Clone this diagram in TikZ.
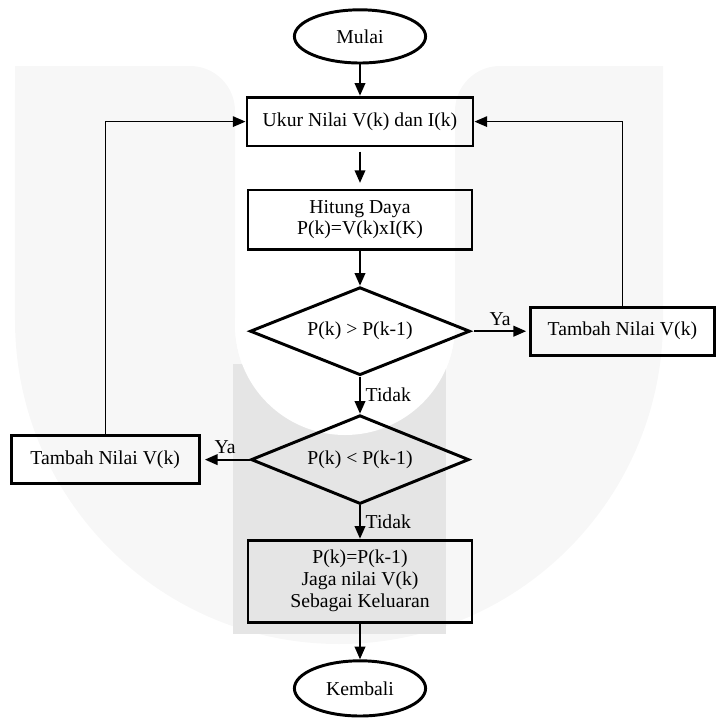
\documentclass[tikz,border=0pt]{standalone}
\usepackage{fontspec}
\setmainfont{Liberation Serif}
\usetikzlibrary{shapes.geometric,arrows.meta}

\begin{document}
\begin{tikzpicture}[
  font=\fontsize{14}{15.6}\selectfont,
  proses/.style={rectangle, draw, line width=2.1pt, align=center, inner sep=0pt},
  keputusan/.style={diamond, draw, line width=2.1pt, aspect=2.5, inner sep=0pt},
  terminal/.style={ellipse, draw, line width=2.1pt, minimum width=3.28cm, minimum height=1.33cm},
  panah/.style={-{Triangle[length=9pt,width=7.5pt]}, line width=1.4pt},
  balik/.style={panah, line width=0.95pt}
]
\useasboundingbox (0,0) rectangle (17.9,-18);

% latar
\fill[black!3] (0.375,-1.65) -- (4.75,-1.65) arc[start angle=90, end angle=0, radius=1.125]
  -- (5.875,-8.125) arc[start angle=180, end angle=360, radius=2.75]
  -- (11.375,-2.775) arc[start angle=180, end angle=90, radius=1.125]
  -- (16.575,-1.65) -- (16.575,-8) arc[start angle=0, end angle=-180, radius=8.1] -- cycle;
\fill[black!10] (5.825,-9.1) rectangle (11.15,-15.85);
\fill[white] (8.625,-8.125) circle[radius=2.75];

\draw
(9, -0.91) node[terminal](mulai){Mulai}
(9, -3.04) node[proses, minimum width=5.65cm, minimum height=1.22cm](ukur){Ukur Nilai V(k) dan I(k)}
(9, -5.49) node[proses, minimum width=5.6cm, minimum height=1.48cm](hitung){Hitung Daya\\P(k)=V(k)xI(K)}
(9, -8.28) node[keputusan, minimum width=5.5cm, minimum height=2.2cm](cek1){P(k) > P(k-1)}
(15.56, -8.28) node[proses, minimum width=4.6cm, minimum height=1.2cm](tambah1){Tambah Nilai V(k)}
(9, -11.49) node[keputusan, minimum width=5.45cm, minimum height=2.22cm](cek2){P(k) < P(k-1)}
(2.63, -11.49) node[proses, minimum width=4.7cm, minimum height=1.2cm](tambah2){Tambah Nilai V(k)}
(9, -14.53) node[proses, minimum width=5.6cm, minimum height=2.05cm](akhir){P(k)=P(k-1)\\Jaga nilai V(k)\\Sebagai Keluaran}
(9, -17.21) node[terminal, minimum height=1.38cm](kembali){Kembali};

\draw[panah] (mulai) -- (ukur);
\draw[panah, shorten <=3pt, shorten >=4pt] (ukur) -- (hitung);
\draw[panah] (hitung) -- (cek1);
\draw[panah, shorten <=2pt, shorten >=2pt] (cek1) -- node[above] {Ya} (tambah1);
\draw[panah] (cek1) -- node[right] {Tidak} (cek2);
\draw[panah, shorten >=3pt] (cek2) -- node[above] {Ya} (tambah2);
\draw[panah] (cek2) -- node[right] {Tidak} (akhir);
\draw[panah] (akhir) -- (kembali);
\draw[balik] (tambah1) |- (ukur);
\draw[balik] (tambah2) |- (ukur);
\end{tikzpicture}
\end{document}
